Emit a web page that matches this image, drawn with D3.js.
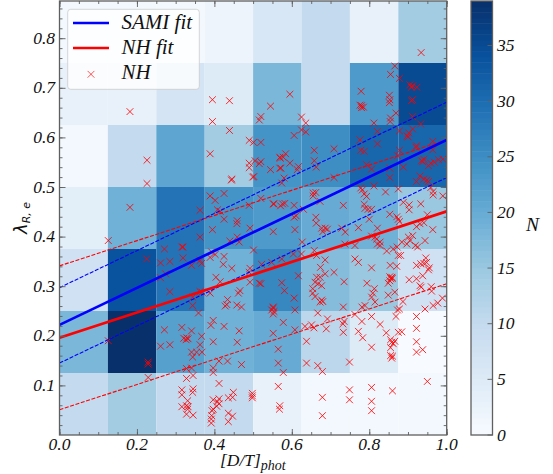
<!DOCTYPE html>
<html><head><meta charset="utf-8">
<script src="https://cdn.jsdelivr.net/npm/d3@7"></script>
<style>html,body{margin:0;padding:0;background:#fff}svg{display:block}</style>
</head><body><div id="c"></div>
<script>
const xTicks=[0,0.2,0.4,0.6,0.8,1.0];
const yTicks=[0.1,0.2,0.3,0.4,0.5,0.6,0.7,0.8];
const cbTicks=[0,5,10,15,20,25,30,35];
const binWidthX=0.125, binWidthY=0.125;
// counts per bin, bottom row first
const heatRows=[
 [10,14,10,10,3,1,1,1],
 [18,39,22,19,20,11,5,0],
 [8,34,29,19,26,17,15,8],
 [4,19,29,24,23,20,19,15],
 [1,10,21,14,24,25,31,31],
 [3,3,7,5,18,10,23,35],
 [1,1,1,2,6,10,3,14]
];
const fitNames=["SAMI fit","NH fit"];
const samiFit=[0.222,0.595], samiUp=[0.297,0.671], samiLow=[0.145,0.519];
const nhFit=[0.196,0.451], nhUp=[0.341,0.595], nhLow=[0.051,0.305];
const nhPoints=[
[.182,.723],[.182,.652],[.226,.554],[.226,.507],[.182,.459],[.395,.676],[.439,.674],[.395,.632],[.439,.614],[.389,.567],
[.490,.594],[.501,.590],[.520,.590],[.545,.663],[.520,.642],[.516,.635],[.490,.548],[.490,.539],[.505,.553],[.520,.551],
[.516,.547],[.569,.560],[.569,.538],[.545,.535],[.502,.521],[.499,.520],[.445,.516],[.444,.514],[.389,.482],[.402,.473],
[.425,.487],[.363,.453],[.408,.454],[.415,.451],[.425,.435],[.395,.414],[.459,.432],[.458,.426],[.490,.463],[.520,.477],
[.552,.466],[.492,.417],[.552,.410],[.363,.399],[.459,.399],
[.126,.392],[.440,.391],[.464,.389],[.501,.373],[.271,.375],[.225,.355],[.316,.379],[.319,.379],[.319,.357],[.261,.347],
[.285,.350],[.341,.342],[.363,.352],[.367,.346],[.393,.369],[.402,.364],[.389,.358],[.425,.360],[.423,.344],[.445,.336],
[.492,.336],[.490,.328],[.522,.344],[.548,.348],[.274,.325],[.261,.317],[.404,.318],[.415,.309],[.492,.308],[.516,.306],
[.520,.305],[.285,.289],[.363,.289],[.368,.288],[.389,.286],[.344,.278],[.466,.291],[.462,.286],[.434,.273],[.432,.263],
[.428,.260],[.344,.261],[.458,.262],[.470,.258],[.359,.246],[.552,.256],[.552,.244],[.397,.231],[.391,.221],[.425,.219],
[.316,.217],[.271,.212],[.341,.210],[.464,.210],[.126,.190],[.321,.195],[.329,.196],[.332,.194],[.327,.192],[.367,.199],
[.552,.205],[.397,.188],[.459,.187],[.261,.179],[.285,.182],[.363,.182],[.341,.167],[.354,.167],[.368,.167],[.565,.173],
[.344,.157],[.229,.147],[.229,.143],[.412,.149],[.434,.149],[.470,.142],[.565,.145],[.397,.135],[.341,.135],[.328,.134],
[.397,.126],[.229,.116],[.328,.114],[.345,.120],[.412,.104],[.565,.098],[.316,.091],[.345,.093],[.344,.086],[.316,.081],
[.449,.086],[.447,.076],[.436,.075],[.498,.084],[.498,.079],[.498,.075],[.397,.071],[.412,.073],[.408,.067],[.412,.063],
[.406,.058],[.331,.069],[.316,.057],[.328,.059],[.332,.057],[.331,.052],[.397,.052],[.394,.049],[.436,.044],[.447,.038],
[.328,.042],[.345,.040],[.393,.039],[.436,.027],[.392,.032],[.392,.024],[.569,.059],[.568,.052],
[.934,.771],[.866,.744],[.855,.727],[.878,.719],[.779,.693],[.595,.687],[.905,.706],[.912,.704],[.923,.701],[.909,.701],
[.852,.685],[.853,.676],[.852,.670],[.780,.664],[.776,.665],[.785,.661],[.780,.660],[.909,.674],[.912,.676],[.869,.649],
[.855,.639],[.854,.632],[.912,.642],[.625,.641],[.636,.629],[.625,.615],[.636,.611],[.606,.604],[.812,.629],[.821,.612],
[.878,.613],[.912,.617],[.933,.627],[.902,.609],[.898,.603],[.900,.601],[.776,.595],[.821,.587],[.778,.574],[.787,.572],
[.964,.592],[.922,.583],[.921,.580],[.878,.574],[.873,.563],[.709,.577],[.658,.574],[.658,.553],[.663,.540],[.584,.567],
[.578,.560],[.570,.558],[.595,.548],[.572,.538],[.617,.541],[.614,.535],[.793,.545],[.806,.536],[.853,.538],[.888,.540],
[.935,.553],[.941,.556],[.938,.551],[.964,.575],[.959,.548],[.953,.543],[.968,.550],[.979,.555],[.990,.556],[.709,.519],
[.853,.519],[.580,.518],[.574,.508],[.931,.522],[.941,.516],[.949,.514],[.953,.511],[.922,.511],[.778,.498],[.782,.494],
[.812,.502],[.875,.496],[.842,.490],[.787,.486],[.793,.481],[.959,.499],[.965,.491],[.965,.484],[.990,.482],[.655,.488],
[.662,.489],[.655,.482],[.673,.471],[.888,.469],[.903,.464],[.903,.454],[.933,.466],[.787,.465],[.789,.457],[.797,.455],
[.806,.455],[.554,.466],[.576,.466],[.571,.462],[.582,.467],[.606,.463],[.630,.455],[.733,.463],[.853,.445],[.871,.440],
[.875,.435],[.878,.430],[.950,.444],[.606,.439],[.611,.442],[.662,.439],[.663,.427],[.800,.435],[.931,.426],[.941,.428],
[.922,.420],[.772,.418],[.821,.417],[.964,.414],[.677,.417],[.686,.417],[.680,.410],[.692,.415],[.608,.414],[.729,.417],
[.738,.409],[.806,.401],[.815,.399],
[.627,.389],[.737,.385],[.763,.382],[.819,.395],[.828,.389],[.821,.385],[.828,.382],[.845,.371],[.862,.375],[.872,.379],
[.884,.389],[.901,.399],[.905,.392],[.912,.402],[.897,.385],[.919,.382],[.925,.379],[.944,.392],[.875,.362],[.881,.362],
[.658,.372],[.664,.362],[.574,.355],[.604,.365],[.625,.365],[.686,.353],[.674,.338],[.763,.355],[.772,.348],[.806,.337],
[.854,.342],[.871,.340],[.946,.357],[.941,.346],[.948,.348],[.955,.337],[.953,.333],[.922,.342],[.933,.345],[.938,.321],
[.922,.315],[.903,.313],[.617,.321],[.686,.325],[.709,.328],[.664,.318],[.673,.318],[.660,.308],[.668,.305],[.677,.301],
[.735,.309],[.574,.307],[.581,.291],[.654,.295],[.654,.286],[.660,.279],[.677,.272],[.673,.268],[.680,.269],[.606,.276],
[.608,.252],[.858,.318],[.853,.319],[.860,.316],[.856,.315],[.849,.306],[.853,.311],[.794,.306],[.813,.295],[.809,.286],
[.815,.268],[.806,.278],[.849,.282],[.866,.288],[.931,.301],[.934,.298],[.960,.299],[.961,.290],[.887,.269],[.989,.276],
[.977,.266],[.965,.261],[.944,.254],[.873,.252],[.878,.254],[.733,.258],[.789,.261],[.781,.258],[.552,.258],[.548,.252],
[.554,.249],[.667,.246],[.763,.243],[.806,.239],[.869,.239],[.922,.239],[.692,.234],[.689,.214],[.735,.229],[.732,.224],
[.733,.207],[.781,.229],[.828,.223],[.578,.227],[.922,.215],[.634,.219],[.651,.222],[.657,.216],[.608,.212],[.772,.209],
[.844,.206],[.875,.207],[.884,.208],[.783,.196],[.638,.189],[.855,.192],[.866,.189],[.862,.184],[.858,.187],[.922,.188],
[.855,.176],[.806,.177],[.938,.172],[.922,.167],[.855,.160],[.858,.155],[.860,.159],[.638,.145],[.667,.140],[.749,.147],
[.679,.128],[.578,.126],[.950,.108],[.749,.091],[.749,.071],[.806,.096],[.806,.068],[.806,.049],[.860,.089],[.679,.076],
[.679,.039]
];
const blues=["#f7fbff","#deebf7","#c6dbef","#9ecae1","#6baed6","#4292c6","#2171b5","#08519c","#08306b"];

const W=553,H=474,m={l:59.5,r:446.7,t:1,b:435};
const serif="'Liberation Serif',serif";
const svg=d3.select("#c").append("svg").attr("width",W).attr("height",H);
const x=d3.scaleLinear().domain([0,1]).range([m.l,m.r]);
const y=d3.scaleLinear().domain([0,0.875]).range([m.b,m.t]);
const color=d3.scaleLinear().domain(d3.range(9).map(i=>i*39/8)).range(blues).interpolate(d3.interpolateRgb).clamp(true);
const gridAlpha=1;
svg.append("clipPath").attr("id","pa").append("rect").attr("x",m.l).attr("y",m.t).attr("width",m.r-m.l).attr("height",m.b-m.t);
const plot=svg.append("g").attr("clip-path","url(#pa)");
heatRows.forEach((row,j)=>row.forEach((v,i)=>{
  plot.append("rect").attr("x",x(i*binWidthX)).attr("y",y((j+1)*binWidthY))
    .attr("width",x(binWidthX)-x(0)).attr("height",y(0)-y(binWidthY))
    .attr("fill",color(v)).attr("opacity",gridAlpha);
}));
function cross(g,px,py,r,sw,op){
  g.append("path").attr("d",`M${px-r},${py-r}L${px+r},${py+r}M${px-r},${py+r}L${px+r},${py-r}`)
   .attr("stroke","#ff0000").attr("stroke-width",sw).attr("fill","none").attr("stroke-opacity",op);
}
const pts=plot.append("g");
nhPoints.forEach(p=>cross(pts,x(p[0]),y(p[1]),3.4,0.95,0.88));
function fit(v,col,w,dash){
  const l=plot.append("line").attr("x1",x(0)).attr("x2",x(1)).attr("y1",y(v[0])).attr("y2",y(v[1]))
    .attr("stroke",col).attr("stroke-width",w);
  if(dash)l.attr("stroke-dasharray",dash);
}
fit(samiUp,"#0000ff",1.1,"4,1.6");fit(samiLow,"#0000ff",1.1,"4,1.6");
fit(nhUp,"#ff0000",1.1,"4,1.6");fit(nhLow,"#ff0000",1.1,"4,1.6");
fit(samiFit,"#0000ff",2.7);fit(nhFit,"#ff0000",2.7);

// axes
const spine="#5f5f5f";
const ax=svg.append("g");
function tickStyle(g){g.selectAll(".domain").remove();g.selectAll("line").attr("stroke",spine).attr("stroke-width",0.9);}
const majX=d3.axisBottom(x).tickValues(xTicks).tickSize(-6).tickFormat("");
const minX=d3.axisBottom(x).tickValues(d3.range(0,1.0001,0.05)).tickSize(-3).tickFormat("");
const majY=d3.axisLeft(y).tickValues(yTicks).tickSize(-6).tickFormat("");
const minY=d3.axisLeft(y).tickValues(d3.range(0.02,0.87,0.02)).tickSize(-3).tickFormat("");
ax.append("g").attr("transform",`translate(0,${m.b})`).call(minX).call(tickStyle);
ax.append("g").attr("transform",`translate(0,${m.b})`).call(majX).call(tickStyle);
ax.append("g").attr("transform",`translate(0,${m.t})`).call(d3.axisTop(x).tickValues(xTicks).tickSize(-6).tickFormat("")).call(tickStyle);
ax.append("g").attr("transform",`translate(0,${m.t})`).call(d3.axisTop(x).tickValues(d3.range(0,1.0001,0.05)).tickSize(-3).tickFormat("")).call(tickStyle);
ax.append("g").attr("transform",`translate(${m.l},0)`).call(minY).call(tickStyle);
ax.append("g").attr("transform",`translate(${m.l},0)`).call(majY).call(tickStyle);
ax.append("g").attr("transform",`translate(${m.r},0)`).call(d3.axisRight(y).tickValues(yTicks).tickSize(-6).tickFormat("")).call(tickStyle);
ax.append("g").attr("transform",`translate(${m.r},0)`).call(d3.axisRight(y).tickValues(d3.range(0.02,0.87,0.02)).tickSize(-3).tickFormat("")).call(tickStyle);
ax.append("rect").attr("x",m.l).attr("y",m.t).attr("width",m.r-m.l).attr("height",m.b-m.t).attr("fill","none").attr("stroke",spine).attr("stroke-width",1.3);

function label(px,py,t,anchor,size){
  return svg.append("text").attr("x",px).attr("y",py).attr("text-anchor",anchor).attr("font-family",serif)
    .attr("font-style","italic").attr("font-size",size).attr("fill","#111").text(t);
}
xTicks.forEach(v=>label(x(v),450,d3.format(".1f")(v),"middle",17.5));
yTicks.forEach(v=>label(55,y(v)+5.5,d3.format(".1f")(v),"end",17.5));

// x label
const xl=label(220,466,"[D/T]","start",17.5);
xl.append("tspan").attr("dy",3.5).attr("font-size",14).text("phot");
// y label
const yl=svg.append("text").attr("transform","translate(27,234) rotate(-90)").attr("text-anchor","start")
  .attr("font-family","'DejaVu Sans',sans-serif").attr("font-style","italic").attr("font-size",18).attr("fill","#111").text("λ");
yl.append("tspan").attr("dy",3).attr("font-size",11).text("R, e");

// legend
const lg=svg.append("g");
lg.append("rect").attr("x",67.7).attr("y",9.3).attr("width",131.6).attr("height",80).attr("rx",3)
  .attr("fill","#fff").attr("fill-opacity",0.8).attr("stroke","#cccccc").attr("stroke-opacity",0.8).attr("stroke-width",1);
[[fitNames[0],"#0000ff",23],[fitNames[1],"#ff0000",48]].forEach(d=>{
  lg.append("line").attr("x1",73).attr("x2",109).attr("y1",d[2]).attr("y2",d[2]).attr("stroke",d[1]).attr("stroke-width",2.7);
  label(121.5,d[2]+6.3,d[0],"start",21);
});
cross(lg,91,74.3,3.4,0.95,0.7);
label(121.5,79,"NH","start",21);

// colorbar
const cbX=471,cbW=21.5,cbTop=1,cbBot=435;
const cy=d3.scaleLinear().domain([0,39]).range([cbBot,cbTop]);
const cb=svg.append("g");
d3.range(0,39,0.5).forEach(v=>{
  cb.append("rect").attr("x",cbX).attr("y",cy(v+0.5)).attr("width",cbW).attr("height",cy(v)-cy(v+0.5)+0.5)
    .attr("fill",color(v+0.25)).attr("opacity",gridAlpha);
});
cbTicks.forEach(v=>{
  cb.append("line").attr("x1",cbX+cbW-5).attr("x2",cbX+cbW).attr("y1",cy(v)).attr("y2",cy(v)).attr("stroke",spine).attr("stroke-width",0.9);
  label(cbX+cbW+4.5,cy(v)+5.5,String(v),"start",17.5);
});
cb.append("rect").attr("x",cbX).attr("y",cbTop).attr("width",cbW).attr("height",cbBot-cbTop).attr("fill","none").attr("stroke",spine).attr("stroke-width",1.3);
label(526,231,"N","start",19.5);
</script></body></html>
